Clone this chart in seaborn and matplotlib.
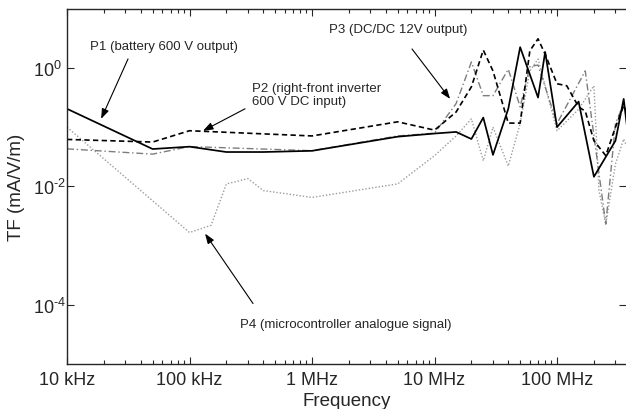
import numpy as np
import pandas as pd
import matplotlib
matplotlib.use("Agg")
import matplotlib.pyplot as plt
import seaborn as sns

# ---------------- data ----------------
freq_p1 = [1e4, 5e4, 1e5, 2e5, 4e5, 1e6, 5e6, 1e7, 1.5e7, 2e7, 2.5e7, 3e7, 4e7,
           5e7, 7e7, 8e7, 1e8, 1.5e8, 2e8, 3e8, 3.5e8, 4e8]
tf_p1 = [0.204, 0.0427, 0.0468, 0.038, 0.038, 0.0398, 0.069, 0.078, 0.083, 0.063,
         0.145, 0.034, 0.204, 2.24, 0.316, 1.86, 0.100, 0.27, 0.0145, 0.059, 0.30, 0.03]

freq_p2 = [1e4, 5e4, 1e5, 1e6, 5e6, 1e7, 1.5e7, 2e7, 2.5e7, 3e7, 4e7, 5e7, 6e7,
           7e7, 8e7, 1e8, 1.2e8, 1.5e8, 1.7e8, 2e8, 2.5e8, 3e8, 3.5e8, 4e8]
tf_p2 = [0.062, 0.056, 0.087, 0.071, 0.123, 0.089, 0.18, 0.48, 2.0, 0.89, 0.117,
         0.117, 1.95, 3.1, 1.7, 0.54, 0.50, 0.22, 0.186, 0.059, 0.033, 0.10, 0.23, 0.126]

freq_p3 = [1e4, 5e4, 1e5, 1e6, 5e6, 1e7, 1.5e7, 2e7, 2.5e7, 3e7, 4e7, 5e7, 6e7,
           7e7, 1e8, 1.7e8, 2.5e8, 3e8, 3.5e8, 4e8]
tf_p3 = [0.043, 0.035, 0.047, 0.040, 0.071, 0.079, 0.25, 1.26, 0.34, 0.34, 0.95,
         0.22, 1.05, 1.12, 0.115, 0.89, 0.0023, 0.115, 0.25, 0.063]

freq_p4 = [1e4, 1e5, 1.5e5, 2e5, 3e5, 4e5, 1e6, 5e6, 1e7, 1.5e7, 2e7, 2.5e7, 3e7,
           4e7, 5e7, 6e7, 7e7, 1e8, 1.5e8, 2e8, 2.2e8, 2.5e8, 3e8, 3.5e8, 4e8]
tf_p4 = [0.10, 0.00166, 0.0022, 0.011, 0.0135, 0.0085, 0.0065, 0.011, 0.033, 0.071,
         0.138, 0.027, 0.10, 0.022, 0.115, 0.89, 1.41, 0.087, 0.20, 0.50, 0.0085,
         0.0023, 0.024, 0.063, 0.032]

series_names = ["P1", "P2", "P3", "P4"]
x_tick_values = [1e4, 1e5, 1e6, 1e7, 1e8]
x_tick_labels = ["10 kHz", "100 kHz", "1 MHz", "10 MHz", "100 MHz"]
y_tick_values = [1e-4, 1e-2, 1e0]
y_tick_labels = ["10$^{\\text{-}4}$", "10$^{\\text{-}2}$", "10$^{0}$"]

labels_text = {
    "P1": "P1 (battery 600 V output)",
    "P2": "P2 (right-front inverter\n600 V DC input)",
    "P3": "P3 (DC/DC 12V output)",
    "P4": "P4 (microcontroller analogue signal)",
}

frames = []
for name, fx, fy in zip(series_names, [freq_p1, freq_p2, freq_p3, freq_p4],
                        [tf_p1, tf_p2, tf_p3, tf_p4]):
    frames.append(pd.DataFrame({"Frequency": fx, "TF": fy, "series": name}))
df = pd.concat(frames, ignore_index=True)

# ---------------- style ----------------
sns.set_style("ticks")
plt.rcParams["font.family"] = ["Liberation Sans", "DejaVu Sans"]
plt.rcParams["mathtext.fontset"] = "custom"
plt.rcParams["mathtext.rm"] = "Liberation Sans"
plt.rcParams["mathtext.it"] = "Liberation Sans:italic"
plt.rcParams["mathtext.bf"] = "Liberation Sans:bold"

fig = plt.figure(figsize=(6.26, 4.10), dpi=100)
ax = fig.add_axes([67 / 626, 45 / 410, 1 - 67 / 626, 355 / 410])

styles = {
    "P1": dict(color="black", lw=1.25, ls="-"),
    "P2": dict(color="black", lw=1.2, ls=(0, (3.2, 2.0))),
    "P3": dict(color="#7d7d7d", lw=1.0, ls=(0, (5, 2, 1, 2))),
    "P4": dict(color="#9c9c9c", lw=1.0, ls=(0, (1, 1.4))),
}
order = ["P4", "P3", "P2", "P1"]
for name in order:
    sub = df[df["series"] == name]
    st = styles[name]
    sns.lineplot(data=sub, x="Frequency", y="TF", ax=ax, estimator=None,
                 color=st["color"], linewidth=st["lw"], linestyle=st["ls"],
                 legend=False)

ax.set_xscale("log")
ax.set_yscale("log")
ax.set_xlim(1e4, 10 ** 8.563)
ax.set_ylim(1e-5, 10 ** 0.995)

ax.xaxis.set_major_locator(matplotlib.ticker.FixedLocator(x_tick_values))
ax.xaxis.set_major_formatter(matplotlib.ticker.FixedFormatter(x_tick_labels))
ax.xaxis.set_minor_locator(matplotlib.ticker.LogLocator(base=10, subs=np.arange(2, 10)))
ax.xaxis.set_minor_formatter(matplotlib.ticker.NullFormatter())
ax.yaxis.set_major_locator(matplotlib.ticker.FixedLocator(y_tick_values))
ax.yaxis.set_major_formatter(matplotlib.ticker.FixedFormatter(y_tick_labels))
ax.yaxis.set_minor_locator(matplotlib.ticker.NullLocator())

ax.tick_params(which="both", direction="in", top=True, right=True, width=0.8)
ax.tick_params(which="major", length=5, labelsize=13)
ax.tick_params(which="minor", length=3)
ax.tick_params(axis="x", pad=5)
ax.tick_params(axis="y", pad=24.5)
for lbl in ax.get_yticklabels():
    lbl.set_horizontalalignment("left")
for s in ["left", "bottom", "top"]:
    ax.spines[s].set_linewidth(1.0)
ax.spines["right"].set_visible(False)

ax.set_xlabel("Frequency", fontsize=13.5, labelpad=3)
ax.set_ylabel("TF (mA/V/m)", fontsize=13.5, va="center")
ax.yaxis.set_label_coords(-0.09, 0.5)

# ---------------- annotations ----------------
fs = 9.5
arrow = dict(arrowstyle="-|>,head_length=0.6,head_width=0.22", color="black",
             lw=0.8, shrinkA=0, shrinkB=0)
ax.text(1.54e4, 2.35, labels_text["P1"], fontsize=fs, ha="left", va="center")
ax.annotate("", xy=(1.9e4, 0.138), xytext=(3.15e4, 1.42), arrowprops=arrow)

ax.text(3.24e5, 0.35, labels_text["P2"], fontsize=fs, ha="left", va="center",
        linespacing=1.1)
ax.annotate("", xy=(1.29e5, 0.0867), xytext=(2.84e5, 0.204), arrowprops=arrow)

ax.text(1.38e6, 4.5, labels_text["P3"], fontsize=fs, ha="left", va="center")
ax.annotate("", xy=(1.34e7, 0.30), xytext=(6.55e6, 2.09), arrowprops=arrow)

ax.text(2.58e5, 4.8e-5, labels_text["P4"], fontsize=fs, ha="left", va="center")
ax.annotate("", xy=(1.34e5, 1.59e-3), xytext=(3.3e5, 1.05e-4), arrowprops=arrow)

fig.savefig("out.png", dpi=100)
